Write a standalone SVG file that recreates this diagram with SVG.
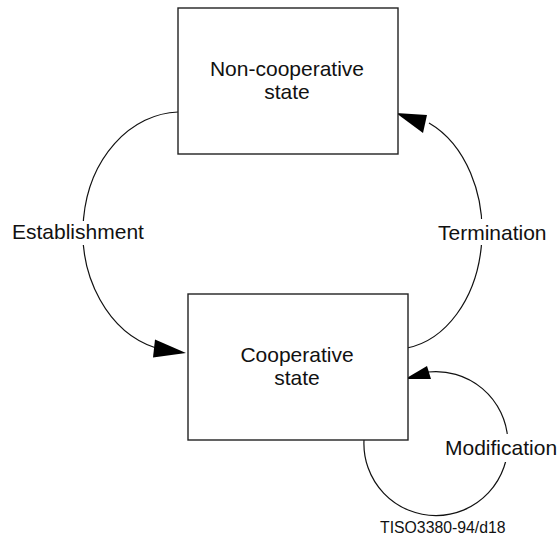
<svg xmlns="http://www.w3.org/2000/svg" width="559" height="538" viewBox="0 0 559 538">
<style>
.box{fill:#fff;stroke:#222;stroke-width:1.4}
.lbl{font-family:"Liberation Sans",Arial,sans-serif;font-size:21px;fill:#111}
.mid{text-anchor:middle}
.arc{fill:none;stroke:#111;stroke-width:1.2}
.head{fill:#000;stroke:none}
.bg{fill:#fff;stroke:none}
</style>
<rect width="559" height="538" fill="#fff"/>
<g id="connectors">
<g id="establishment">
<path class="arc" d="M178,112 A98,120 0 0 0 156,348"/>
<polygon class="head" points="186,353 155,339.5 153,357.5"/>
<rect class="bg" x="10" y="221" width="138" height="24"/>
<text class="lbl" x="12" y="239">Establishment</text>
</g>
<g id="termination">
<path class="arc" d="M407,348 A88,118 0 0 0 429,123"/>
<polygon class="head" points="396,113 427,115 423,133"/>
<rect class="bg" x="436" y="219" width="116" height="26"/>
<text class="lbl" x="438" y="240">Termination</text>
</g>
<g id="modification">
<path class="arc" d="M364,440 A72,72 0 1 0 428,372"/>
<polygon class="head" points="405,379 427,366 431,379"/>
<rect class="bg" x="443" y="434" width="115" height="28"/>
<text class="lbl" x="445" y="455">Modification</text>
</g>
</g>
<g id="noncoop">
<rect class="box" x="178" y="8" width="220" height="146"/>
<text class="lbl mid" x="287" y="76">Non-cooperative</text>
<text class="lbl mid" x="287" y="99">state</text>
</g>
<g id="coop">
<rect class="box" x="188" y="294" width="220" height="146"/>
<text class="lbl mid" x="297" y="362">Cooperative</text>
<text class="lbl mid" x="297" y="385">state</text>
</g>
<text x="380" y="533" font-family="Liberation Sans,Arial,sans-serif" font-size="15.8" fill="#111">TISO3380-94/d18</text>
</svg>
